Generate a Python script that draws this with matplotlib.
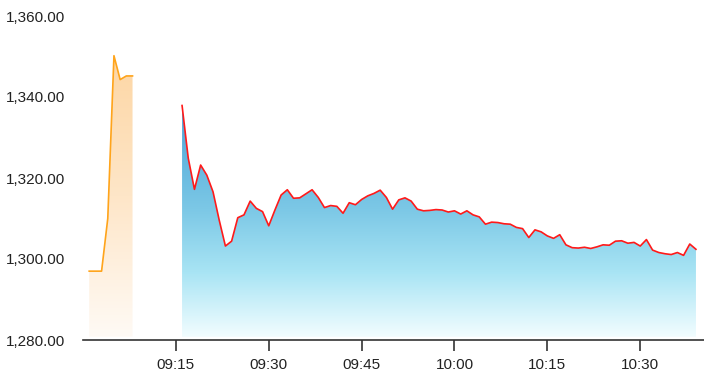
import matplotlib.pyplot as plt
from matplotlib.colors import LinearSegmentedColormap
from matplotlib.ticker import FuncFormatter
import numpy as np

plt.rcParams['font.family'] = ['Liberation Sans', 'DejaVu Sans']

# minutes after 09:00
pre_minutes = [1, 2, 3, 4, 5, 6, 7, 8]
pre_prices = [1297.0, 1297.0, 1297.0, 1310.0, 1350.2, 1344.3, 1345.2, 1345.2]

mkt_minutes = list(range(16, 100))
mkt_prices = [
    1337.9, 1324.9, 1317.2, 1323.2, 1320.7, 1316.6, 1309.6, 1303.2, 1304.4, 1310.2,
    1310.9, 1314.3, 1312.5, 1311.7, 1308.2, 1312.1, 1315.8, 1317.1, 1315.0, 1315.1,
    1316.1, 1317.1, 1315.2, 1312.7, 1313.2, 1313.0, 1311.3, 1313.9, 1313.4, 1314.7,
    1315.6, 1316.2, 1317.0, 1315.2, 1312.3, 1314.6, 1315.1, 1314.3, 1312.3, 1311.9,
    1312.0, 1312.2, 1312.1, 1311.6, 1311.9, 1311.1, 1311.9, 1310.9, 1310.4, 1308.6,
    1309.1, 1309.0, 1308.7, 1308.6, 1307.8, 1307.5, 1305.3, 1307.2, 1306.7, 1305.7,
    1305.1, 1306.0, 1303.5, 1302.8, 1302.7, 1302.9, 1302.6, 1303.0, 1303.5, 1303.4,
    1304.4, 1304.5, 1303.9, 1304.1, 1303.2, 1304.8, 1302.2, 1301.6, 1301.3, 1301.1,
    1301.6, 1300.9, 1303.7, 1302.4,
]

tick_minutes = [15, 30, 45, 60, 75, 90]
tick_labels = ['09:15', '09:30', '09:45', '10:00', '10:15', '10:30']
y_ticks = [1280, 1300, 1320, 1340, 1360]

fig = plt.figure(figsize=(7.04, 3.87), dpi=100)
ax = fig.add_axes([83 / 704, 47 / 387, 621 / 704, 324 / 387])

base = 1280.8  # fill stops just above the axis line


def gradient_fill(x, y, line_color, stops):
    x = np.asarray(x, dtype=float)
    y = np.asarray(y, dtype=float)
    ax.plot(x, y, color=line_color, lw=1.2, zorder=3)
    cmap = LinearSegmentedColormap.from_list('g', stops)
    grad = np.linspace(0, 1, 256).reshape(-1, 1)
    im = ax.imshow(grad, cmap=cmap, aspect='auto', origin='lower',
                   extent=[x.min(), x.max(), base, y.max()], zorder=2)
    poly = ax.fill_between(x, y, base, color='none', lw=0)
    im.set_clip_path(poly.get_paths()[0], transform=ax.transData)


gradient_fill(pre_minutes, pre_prices, '#ffa41b',
              [(0, '#fffaf5'), (0.5, '#fee6c8'), (1, '#fdd6a4')])
gradient_fill(mkt_minutes, mkt_prices, '#ff1a1a',
              [(0, '#f2fdff'), (0.28, '#a8e4f4'), (0.55, '#7cc8e6'), (1, '#4aa3d6')])
ax.set_xlim(0, 100.3)
ax.set_ylim(1280, 1360)

ax.set_xticks(tick_minutes)
ax.set_xticklabels(tick_labels)
ax.set_yticks(y_ticks)
ax.yaxis.set_major_formatter(FuncFormatter(lambda v, p: f'{v:,.2f}'))

for s in ['top', 'right', 'left']:
    ax.spines[s].set_visible(False)
ax.spines['bottom'].set_color('#333333')
ax.spines['bottom'].set_linewidth(1.2)
ax.tick_params(axis='y', length=0, pad=13, labelsize=11, labelcolor='#222222')
ax.tick_params(axis='x', length=8, width=1.2, color='#333333', pad=5,
               labelsize=11, labelcolor='#222222')

fig.savefig('out.png', dpi=100)
